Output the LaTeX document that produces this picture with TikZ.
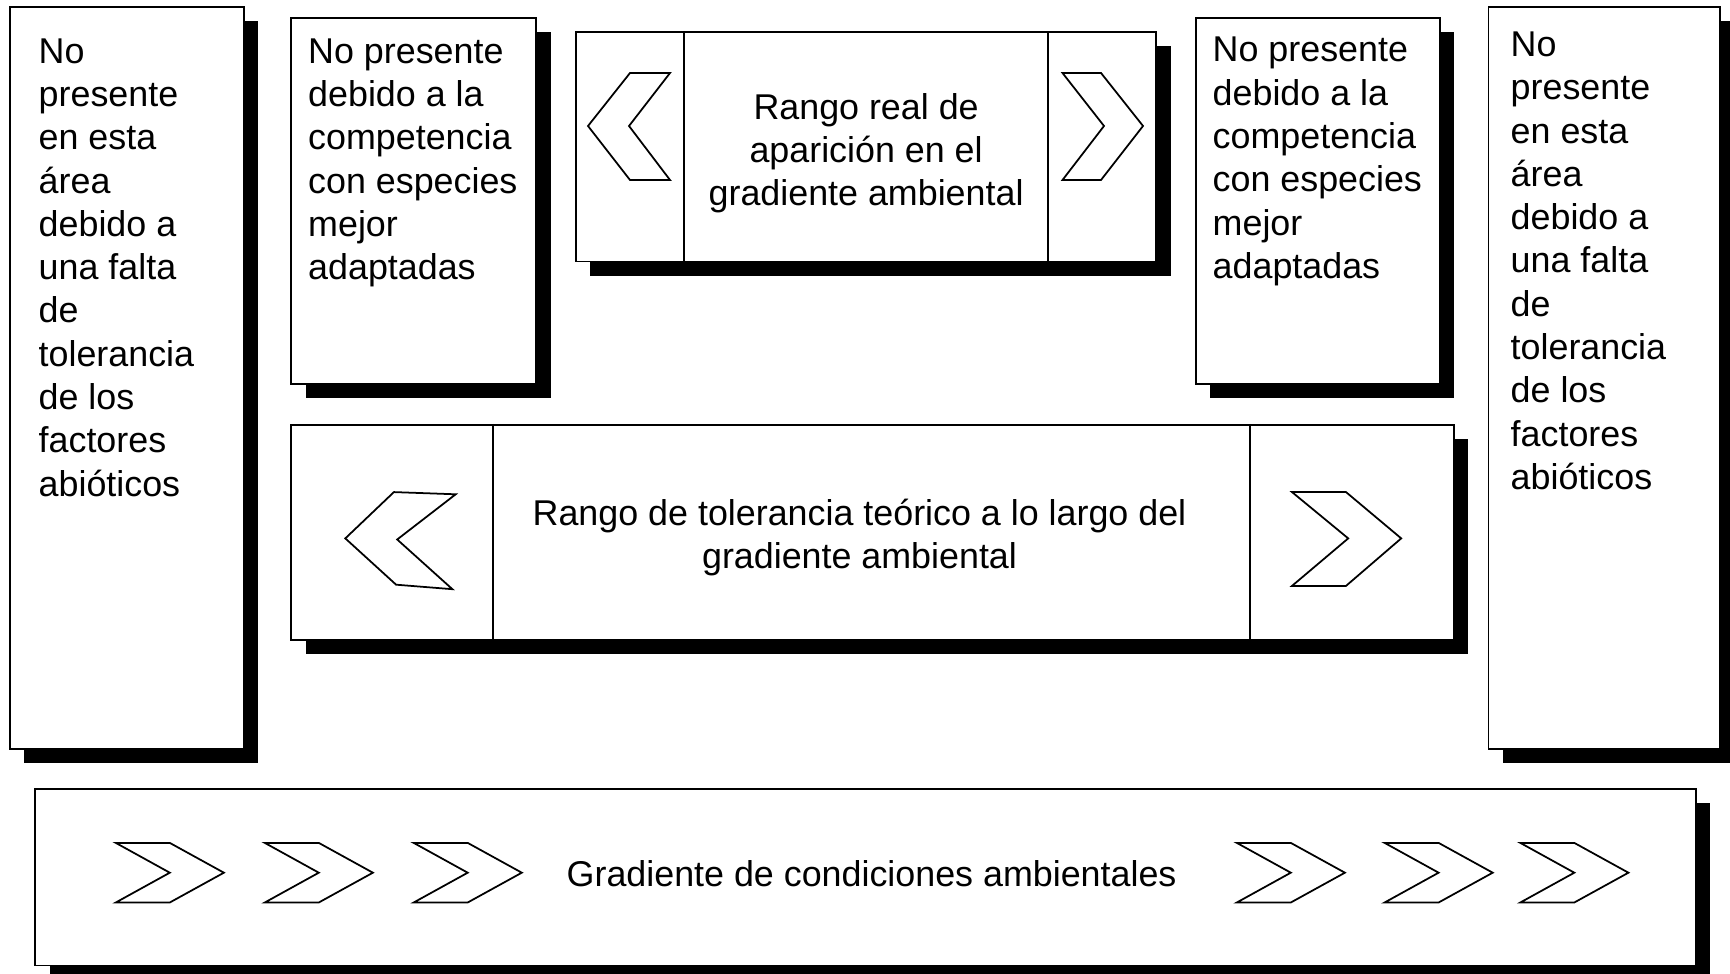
\documentclass[tikz,border=0pt]{standalone}
\usepackage{fontspec}
\setmainfont{Liberation Sans}
\usetikzlibrary{shadows}

\begin{document}
\begin{tikzpicture}[y=-1cm,
    panel/.style ={draw, fill=white, line width=0.5pt, inner sep=0pt,
      drop shadow={shadow xshift=1.43mm, shadow yshift=-1.43mm, fill=black, opacity=1}},
    caption/.style ={inner sep=0pt, align=left, font=\fontsize{10.2pt}{12.32pt}\selectfont},
    chevron/.style ={draw, fill=white, line width=0.5pt}]
   \useasboundingbox (0,0) rectangle (17.30,9.74);

   \node[panel, minimum width=2.339cm, minimum height=7.425cm] (abioL) at (1.269,3.779) {};
   \node[panel, minimum width=2.449cm, minimum height=3.663cm] (compL) at (4.138,2.008) {};
   \node[panel, minimum width=5.804cm, minimum height=2.295cm] (real) at (8.661,1.467) {};
   \node[panel, minimum width=2.438cm, minimum height=3.663cm] (compR) at (13.179,2.008) {};
   \node[panel, minimum width=2.317cm, minimum height=7.425cm] (abioR) at (16.042,3.779) {};
   \node[panel, minimum width=11.629cm, minimum height=2.151cm] (teorico) at (8.727,5.324) {};
   \node[panel, minimum width=16.605cm, minimum height=1.765cm] (gradiente) at (8.655,8.772) {};

   \node[caption, anchor=north west] (abioLtext) at (0.380,0.378)
     {No\\presente\\en esta\\área\\debido a\\una falta\\de\\tolerancia\\de los\\factores\\abióticos};
   \node[caption, anchor=north west] (compLtext) at (3.075,0.378)
     {No presente\\debido a la\\competencia\\con especies\\mejor\\adaptadas};
   \node[caption, anchor=north west] (compRtext) at (12.120,0.366)
     {No presente\\debido a la\\competencia\\con especies\\mejor\\adaptadas};
   \node[caption, anchor=north west] (abioRtext) at (15.100,0.311)
     {No\\presente\\en esta\\área\\debido a\\una falta\\de\\tolerancia\\de los\\factores\\abióticos};
   \node[caption, align=center] (realtext) at (8.661,1.534)
     {Rango real de\\aparición en el\\gradiente ambiental};
   \node[caption, align=center] (teoricotext) at (8.595,5.373)
     {Rango de tolerancia teórico a lo largo del\\gradiente ambiental};
   \node[caption] (gradientetext) at (8.716,8.735) {Gradiente de condiciones ambientales};

   % dividers
   \coordinate (r1) at (6.840,0);
   \coordinate (r2) at (10.481,0);
   \coordinate (t1) at (4.932,0);
   \coordinate (t2) at (12.500,0);
   \draw[line width=0.5pt] (real.north -| r1) -- (real.south -| r1);
   \draw[line width=0.5pt] (real.north -| r2) -- (real.south -| r2);
   \draw[line width=0.5pt] (teorico.north -| t1) -- (teorico.south -| t1);
   \draw[line width=0.5pt] (teorico.north -| t2) -- (teorico.south -| t2);

   % chevrons
   \draw[chevron] (6.70,0.73) -- (6.30,0.73) -- (5.88,1.26) -- (6.30,1.80) -- (6.70,1.80) -- (6.29,1.26) -- cycle;
   \draw[chevron] (10.625,0.73) -- (11.01,0.73) -- (11.43,1.26) -- (11.01,1.80) -- (10.625,1.80) -- (11.04,1.26) -- cycle;
   \draw[chevron] (4.557,4.943) -- (3.939,4.921) -- (3.453,5.384) -- (3.961,5.847) -- (4.524,5.892) -- (3.972,5.395) -- cycle;
   \draw[chevron] (12.920,4.921) -- (13.460,4.921) -- (14.012,5.384) -- (13.460,5.859) -- (12.920,5.859) -- (13.482,5.384) -- cycle;
   \foreach \x in {1.158,2.648,4.137,12.368,13.846,15.203}
     \draw[chevron] (\x,8.429) -- ++(0.54,0) -- ++(0.541,0.298) -- ++(-0.541,0.298)
       -- ++(-0.54,0) -- ++(0.54,-0.298) -- cycle;
 \end{tikzpicture}
\end{document}
